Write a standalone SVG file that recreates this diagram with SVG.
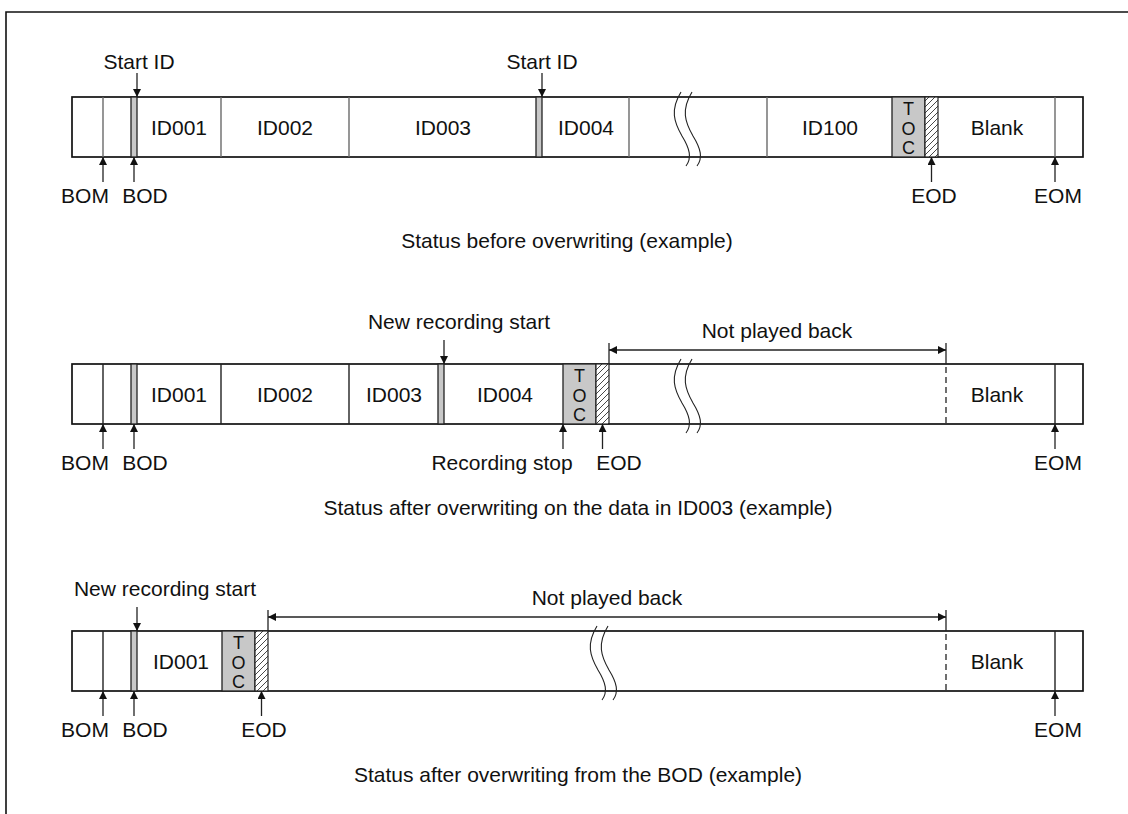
<svg xmlns="http://www.w3.org/2000/svg" width="1128" height="814" viewBox="0 0 1128 814">
<style>
text{font-family:"Liberation Sans",Arial,Helvetica,sans-serif;font-size:21px;fill:#111;text-anchor:middle}
.toc{font-size:18px}
.tape{fill:#fff;stroke:#111;stroke-width:1.7}
.div1{stroke:#6a6a6a;stroke-width:1.4}
.div{stroke:#222;stroke-width:1.4}
.strip{fill:#c8c8c8;stroke:#222;stroke-width:1.3}
.hatch{fill:url(#hp);stroke:#222;stroke-width:1.2}
.arr{stroke:#222;stroke-width:1.3;fill:none;marker-end:url(#ah)}
.dbl{stroke:#222;stroke-width:1.3;fill:none;marker-end:url(#ah);marker-start:url(#ah)}
.tick{stroke:#222;stroke-width:1.3}
.dash{stroke:#222;stroke-width:1.3;stroke-dasharray:6 4}
.brk{fill:none;stroke:#222;stroke-width:1.1}
</style>
<defs>
<marker id="ah" viewBox="0 0 10 10" refX="10" refY="5" markerUnits="userSpaceOnUse" markerWidth="10" markerHeight="8" orient="auto-start-reverse">
<path d="M0,0 L10,5 L0,10 z" fill="#111"/>
</marker>
<pattern id="hp" patternUnits="userSpaceOnUse" width="6" height="6">
<rect width="6" height="6" fill="#fff"/>
<path d="M-1,7 L7,-1 M-1,1 L1,-1 M5,7 L7,5" stroke="#333" stroke-width="0.9"/>
</pattern>
<g id="brk">
<path class="brk" d="M0,0 C-11,18 -7,30 1,44 C9,57 11,66 5,74"/>
<path class="brk" d="M11,0 C0,18 4,30 12,44 C20,57 22,66 16,74"/>
</g>
</defs>

<path d="M6,814 V12 H1128" fill="none" stroke="#111" stroke-width="1.6"/>

<!-- Row 1 -->
<g id="tape1">
<rect class="tape" x="72" y="97" width="1011" height="60"/>
<line class="div1" x1="103" y1="97" x2="103" y2="157"/>
<line class="div1" x1="221" y1="97" x2="221" y2="157"/>
<line class="div1" x1="349" y1="97" x2="349" y2="157"/>
<line class="div1" x1="629" y1="97" x2="629" y2="157"/>
<line class="div1" x1="767" y1="97" x2="767" y2="157"/>
<line class="div1" x1="1055" y1="97" x2="1055" y2="157"/>
<rect class="strip" x="131" y="97" width="6" height="60"/>
<rect class="strip" x="536" y="97" width="6" height="60"/>
<rect class="strip" x="892" y="97" width="33" height="60"/>
<rect class="hatch" x="925" y="97" width="13" height="60"/>
<use href="#brk" x="681" y="92"/>
<text x="179" y="135">ID001</text>
<text x="285" y="135">ID002</text>
<text x="443" y="135">ID003</text>
<text x="586" y="135">ID004</text>
<text x="830" y="135">ID100</text>
<text x="997" y="135">Blank</text>
<text class="toc" x="908.5" y="115">T</text>
<text class="toc" x="908.5" y="134.5">O</text>
<text class="toc" x="908.5" y="154">C</text>
</g>
<g id="labels1">
<text x="139" y="69">Start ID</text>
<text x="542" y="69">Start ID</text>
<text x="85" y="203">BOM</text>
<text x="145" y="203">BOD</text>
<text x="934" y="203">EOD</text>
<text x="1058" y="203">EOM</text>
<text x="567" y="248">Status before overwriting (example)</text>
</g>

<!-- Row 2 -->
<g id="tape2">
<rect class="tape" x="72" y="364" width="1011" height="60"/>
<line class="div" x1="103" y1="364" x2="103" y2="424"/>
<line class="div" x1="221" y1="364" x2="221" y2="424"/>
<line class="div" x1="349" y1="364" x2="349" y2="424"/>
<line class="div" x1="1055" y1="364" x2="1055" y2="424"/>
<rect class="strip" x="131" y="364" width="6" height="60"/>
<rect class="strip" x="438" y="364" width="6" height="60"/>
<rect class="strip" x="563" y="364" width="33" height="60"/>
<rect class="hatch" x="596" y="364" width="13" height="60"/>
<use href="#brk" x="681" y="359"/>
<text x="179" y="402">ID001</text>
<text x="285" y="402">ID002</text>
<text x="394" y="402">ID003</text>
<text x="505" y="402">ID004</text>
<text x="997" y="402">Blank</text>
<text class="toc" x="579.5" y="382">T</text>
<text class="toc" x="579.5" y="401.5">O</text>
<text class="toc" x="579.5" y="421">C</text>
</g>
<g id="labels2">
<text x="459" y="329">New recording start</text>
<text x="777" y="338">Not played back</text>
<text x="85" y="470">BOM</text>
<text x="145" y="470">BOD</text>
<text x="502" y="470">Recording stop</text>
<text x="619" y="470">EOD</text>
<text x="1058" y="470">EOM</text>
<text x="578" y="515">Status after overwriting on the data in ID003 (example)</text>
</g>

<!-- Row 3 -->
<g id="tape3">
<rect class="tape" x="72" y="631" width="1011" height="60"/>
<line class="div" x1="103" y1="631" x2="103" y2="691"/>
<line class="div" x1="1055" y1="631" x2="1055" y2="691"/>
<rect class="strip" x="131" y="631" width="6" height="60"/>
<rect class="strip" x="222" y="631" width="33" height="60"/>
<rect class="hatch" x="255" y="631" width="13" height="60"/>
<use href="#brk" x="597" y="626"/>
<text x="181" y="669">ID001</text>
<text x="997" y="669">Blank</text>
<text class="toc" x="238.5" y="649">T</text>
<text class="toc" x="238.5" y="668.5">O</text>
<text class="toc" x="238.5" y="688">C</text>
</g>
<g id="labels3">
<text x="165" y="596">New recording start</text>
<text x="607" y="605">Not played back</text>
<text x="85" y="737">BOM</text>
<text x="145" y="737">BOD</text>
<text x="264" y="737">EOD</text>
<text x="1058" y="737">EOM</text>
<text x="578" y="782">Status after overwriting from the BOD (example)</text>
</g>

<g id="connectors">
<line class="arr" x1="137" y1="73" x2="137" y2="97"/>
<line class="arr" x1="542" y1="73" x2="542" y2="97"/>
<line class="arr" x1="103" y1="182" x2="103" y2="157"/>
<line class="arr" x1="134" y1="182" x2="134" y2="157"/>
<line class="arr" x1="931.5" y1="182" x2="931.5" y2="157"/>
<line class="arr" x1="1055" y1="182" x2="1055" y2="157"/>
<line class="arr" x1="444" y1="340" x2="444" y2="364"/>
<line class="tick" x1="609" y1="343" x2="609" y2="364"/>
<line class="tick" x1="946" y1="343" x2="946" y2="364"/>
<line class="dash" x1="946" y1="367" x2="946" y2="424"/>
<line class="dbl" x1="609" y1="350" x2="946" y2="350"/>
<line class="arr" x1="103" y1="449" x2="103" y2="424"/>
<line class="arr" x1="134" y1="449" x2="134" y2="424"/>
<line class="arr" x1="563" y1="449" x2="563" y2="424"/>
<line class="arr" x1="602.5" y1="449" x2="602.5" y2="424"/>
<line class="arr" x1="1055" y1="449" x2="1055" y2="424"/>
<line class="arr" x1="137" y1="607" x2="137" y2="631"/>
<line class="tick" x1="268" y1="610" x2="268" y2="631"/>
<line class="tick" x1="946" y1="610" x2="946" y2="631"/>
<line class="dash" x1="946" y1="634" x2="946" y2="691"/>
<line class="dbl" x1="268" y1="617" x2="946" y2="617"/>
<line class="arr" x1="103" y1="716" x2="103" y2="691"/>
<line class="arr" x1="134" y1="716" x2="134" y2="691"/>
<line class="arr" x1="261.5" y1="716" x2="261.5" y2="691"/>
<line class="arr" x1="1055" y1="716" x2="1055" y2="691"/>
</g>
</svg>
